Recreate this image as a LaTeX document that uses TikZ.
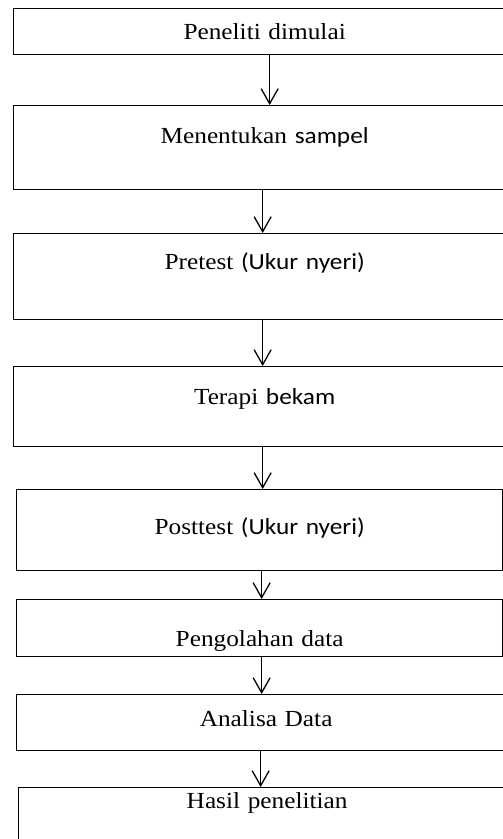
\documentclass[tikz,border=0pt]{standalone}
\usepackage{fontspec}
\setmainfont{Liberation Serif}[FakeStretch=1.1]
\newfontfamily\calibri{Carlito}[FakeStretch=1.1]
\usetikzlibrary{arrows.meta}

\begin{document}
\begin{tikzpicture}[
        langkah/.style={draw, line width=1.3pt, inner sep=0pt, anchor=north west, align=center, font=\fontsize{23}{27}\selectfont},
        panah/.style={line width=1.3pt, -{Straight Barb[length=15pt, width=17pt, line width=1.3pt]}}
    ]
        \useasboundingbox (0,0) rectangle (503pt,-839pt);
        \clip (0,0) rectangle (503pt,-839pt);

        \node[langkah, text width=502pt, text height=31pt, text depth=15pt] (mulai) at (13pt,-8pt) {Peneliti dimulai};
        \node[langkah, text width=502pt, text height=38pt, text depth=46pt] (sampel) at (13pt,-105pt) {Menentukan {\calibri sampel}};
        \node[langkah, text width=502pt, text height=36pt, text depth=50pt] (pretest) at (13pt,-233pt) {Pretest {\calibri (Ukur nyeri)}};
        \node[langkah, text width=502pt, text height=38pt, text depth=42pt] (terapi) at (13pt,-366pt) {Terapi {\calibri bekam}};
        \node[langkah, text width=486pt, text height=45pt, text depth=36pt] (posttest) at (16pt,-489pt) {Posttest {\calibri (Ukur nyeri)}};
        \node[langkah, text width=486pt, text height=47pt, text depth=10pt] (olah) at (16pt,-599pt) {Pengolahan data};
        \node[langkah, text width=499pt, text height=32pt, text depth=24pt] (analisa) at (16pt,-694pt) {Analisa Data};
        \node[langkah, text width=497pt, text height=21pt, text depth=42pt] (hasil) at (18pt,-787pt) {Hasil penelitian};

        \draw[panah] ([xshift=5pt]mulai.south) -- ([xshift=5pt]sampel.north);
        \draw[panah] ([xshift=-2pt]sampel.south) -- ([xshift=-2pt]pretest.north);
        \draw[panah] ([xshift=-2pt]pretest.south) -- ([xshift=-2pt]terapi.north);
        \draw[panah] ([xshift=-2pt]terapi.south) -- ([xshift=3pt]posttest.north);
        \draw[panah] ([xshift=2pt]posttest.south) -- ([xshift=2pt]olah.north);
        \draw[panah] ([xshift=2pt]olah.south) -- ([xshift=-4.5pt]analisa.north);
        \draw[panah] ([xshift=-5.5pt]analisa.south) -- ([xshift=-6.5pt]hasil.north);
    \end{tikzpicture}
\end{document}
